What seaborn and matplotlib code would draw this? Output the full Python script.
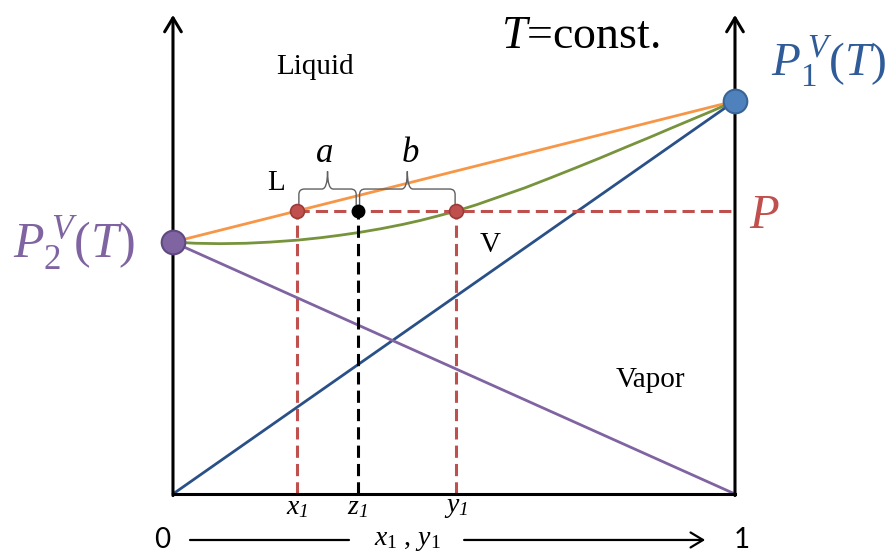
import numpy as np
import pandas as pd
import matplotlib
matplotlib.use("Agg")
import matplotlib.pyplot as plt
import seaborn as sns
from matplotlib.path import Path
from matplotlib.patches import PathPatch

# pure-component vapour pressures (scaled so P1 = 1) and system pressure
p1_sat = 1.0
p2_sat = 0.641
p_sys = 0.720

# compositions marked on the x axis
x1 = 0.221
z1 = 0.329
y1 = 0.504

# bubble line (liquid side), straight Raoult line
bubble_x = [0.0, 1.0]
bubble_p = [p2_sat, p1_sat]

# dew curve (vapour side)
dew_x = [0.0, 0.040, 0.084, 0.130, 0.173, 0.222, 0.262, 0.295, 0.329,
         0.370, 0.409, 0.440, 0.470, 0.504, 0.540, 0.582, 0.626, 0.671,
         0.715, 0.760, 0.805, 0.849, 0.885, 0.920, 0.960, 1.0]
dew_p = [0.641, 0.638, 0.637, 0.638, 0.641, 0.646, 0.652, 0.658, 0.665,
         0.675, 0.686, 0.696, 0.707, 0.720, 0.736, 0.757, 0.779, 0.804,
         0.829, 0.855, 0.882, 0.908, 0.930, 0.951, 0.975, 1.0]

# partial pressures
part1_x = [0.0, 1.0]
part1_p = [0.0, p1_sat]
part2_x = [0.0, 1.0]
part2_p = [p2_sat, 0.0]

ORANGE = "#F79646"
GREEN = "#77933C"
BLUE = "#2A5088"
PURPLE = "#8064A2"
RED = "#C0504D"

sns.set_theme(style="white")
plt.rcParams["mathtext.fontset"] = "custom"
plt.rcParams["mathtext.rm"] = "Liberation Serif"
plt.rcParams["mathtext.it"] = "Liberation Serif:italic"
plt.rcParams["mathtext.bf"] = "Liberation Serif:bold"
plt.rcParams["mathtext.cal"] = "Liberation Serif:italic"
plt.rcParams["font.family"] = ["Liberation Serif", "DejaVu Serif"]
plt.rcParams["text.color"] = "black"

fig = plt.figure(figsize=(8.96, 5.54), dpi=100)
ax = fig.add_axes([0, 0, 1, 1])
ax.set_xlim(-0.3078, 1.2865)
ax.set_ylim(-0.1527, 1.257)
ax.axis("off")

lines = pd.DataFrame({
    "x": bubble_x + dew_x + part1_x + part2_x,
    "p": bubble_p + dew_p + part1_p + part2_p,
    "curve": (["bubble"] * len(bubble_x) + ["dew"] * len(dew_x)
              + ["part1"] * len(part1_x) + ["part2"] * len(part2_x)),
})
palette = {"bubble": ORANGE, "dew": GREEN, "part1": BLUE, "part2": PURPLE}
sns.lineplot(data=lines, x="x", y="p", hue="curve", palette=palette,
             units="curve", estimator=None, sort=False, lw=2.0,
             legend=False, ax=ax, zorder=2)

# tie line and composition drop lines
dash = dict(lw=2.2, dashes=(4, 2))
ax.plot([x1, 1.0], [p_sys, p_sys], color=RED, zorder=3, **dash)
ax.plot([x1, x1], [0, p_sys], color=RED, zorder=3, **dash)
ax.plot([y1, y1], [0, p_sys], color=RED, zorder=3, **dash)
ax.plot([z1, z1], [0, p_sys], color="black", zorder=3, **dash)

# axes frame: two vertical arrows and base line
top = 1.219
for xv in (0.0, 1.0):
    ax.annotate("", xy=(xv, top), xytext=(xv, -0.004),
                arrowprops=dict(arrowstyle="->,head_length=0.5,head_width=0.3",
                                lw=2.2, color="black", mutation_scale=20,
                                shrinkA=0, shrinkB=0), zorder=4)
ax.plot([0, 1], [0, 0], color="black", lw=2.2, zorder=4,
        solid_capstyle="projecting")

# markers
ax.plot([x1, y1], [p_sys, p_sys], "o", ms=10, mfc=RED, mec="#9A3B38",
        mew=1.2, zorder=5)
ax.plot([z1], [p_sys], "o", ms=9, mfc="black", mec="black", zorder=5)
ax.plot([0], [p2_sat], "o", ms=17, mfc=PURPLE, mec="#5E4A80", mew=1.5,
        zorder=6)
ax.plot([1], [p1_sat], "o", ms=17, mfc="#4F81BD", mec="#3A6497", mew=1.5,
        zorder=6)


def brace(xa, xb, yb, ytop, peak, color="#606060"):
    r = 0.010
    ry = 0.014
    xm = (xa + xb) / 2
    verts = [(xa, yb), (xa, ytop - ry), (xa, ytop), (xa + r, ytop),
             (xm - r, ytop), (xm, ytop), (xm, ytop + peak),
             (xm, ytop), (xm + r, ytop),
             (xb - r, ytop), (xb, ytop), (xb, ytop - ry), (xb, yb)]
    codes = [Path.MOVETO, Path.LINETO, Path.CURVE3, Path.CURVE3,
             Path.LINETO, Path.CURVE3, Path.CURVE3,
             Path.CURVE3, Path.CURVE3,
             Path.LINETO, Path.CURVE3, Path.CURVE3, Path.LINETO]
    ax.add_patch(PathPatch(Path(verts, codes), fill=False, ec=color,
                           lw=1.0, zorder=4))


brace(x1 + 0.003, z1 - 0.003, p_sys + 0.015, 0.776, 0.045)
brace(z1 + 0.003, y1 - 0.002, p_sys + 0.015, 0.776, 0.045)

# labels
ax.text(0.269, 0.866, "$a$", fontsize=25, ha="center", va="center")
ax.text(0.422, 0.866, "$b$", fontsize=25, ha="center", va="center")
ax.text(0.183, 0.792, "L", fontsize=21, ha="center", va="center")
ax.text(0.564, 0.633, "V", fontsize=21, ha="center", va="center")
ax.text(0.253, 1.086, "Liquid", fontsize=21, ha="center", va="center")
ax.text(0.849, 0.290, "Vapor", fontsize=21, ha="center", va="center")
ax.text(0.724, 1.163, "$T$=const.", fontsize=33, ha="center", va="center")
ax.text(1.167, 1.099, r"$P_1^{\,V}(T)$", fontsize=34, color="#2F5C99",
        ha="center", va="center")
ax.text(-0.176, 0.641, r"$P_2^{\,V}(T)$", fontsize=36, color=PURPLE,
        ha="center", va="center")
ax.text(1.052, 0.707, "$P$", fontsize=35, color=RED, ha="center",
        va="center")

for xv, name in [(x1, "x"), (z1, "z"), (y1, "y")]:
    ax.text(xv, -0.035, rf"${name}_{{\mathcal{{1}}}}$", fontsize=20,
            ha="center", va="center")

# bottom composition arrow
ax.text(-0.020, -0.117, "0", fontsize=20, family="Lato", ha="center",
        va="center")
ax.text(1.012, -0.117, "1", fontsize=20, family="Lato", ha="center",
        va="center")
ax.text(0.417, -0.118, r"$x_1\ ,\, y_1$", fontsize=20, ha="center",
        va="center")
ax.plot([0.030, 0.313], [-0.117, -0.117], color="black", lw=1.6)
ax.annotate("", xy=(0.947, -0.117), xytext=(0.518, -0.117),
            arrowprops=dict(arrowstyle="->,head_length=0.5,head_width=0.3",
                            lw=1.6, color="black", mutation_scale=18,
                            shrinkA=0, shrinkB=0))

fig.savefig("out.png", dpi=100)
